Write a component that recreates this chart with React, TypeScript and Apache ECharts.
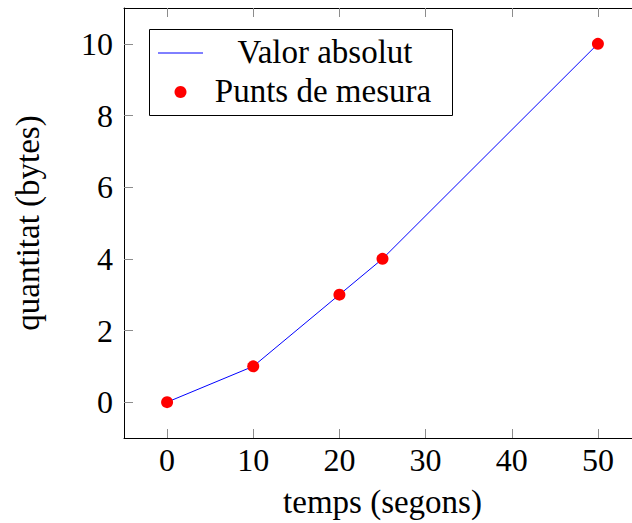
import React, { useEffect, useRef } from "react";
import * as echarts from "echarts";

// measurements: time (s) vs amount (bytes)
const temps = [0, 10, 20, 25, 50];
const quantitat = [0, 1, 3, 4, 10];
const xTicks = [0, 10, 20, 30, 40, 50];
const yTicks = [0, 2, 4, 6, 8, 10];
const legendLabels = ["Valor absolut", "Punts de mesura"];

const FONT = "'Liberation Serif', 'DejaVu Serif', serif";

export default function App() {
  const ref = useRef<HTMLDivElement>(null);

  useEffect(() => {
    if (!ref.current) return;
    const chart = echarts.init(ref.current, null, { renderer: "svg" });
    const points = temps.map((t, i) => [t, quantitat[i]]);
    const tickStyle = { show: true, inside: true, length: 9, lineStyle: { color: "#8c8c8c", width: 1 } };
    const lineStyle = { show: true, onZero: false, lineStyle: { color: "#000", width: 1 } };

    chart.setOption({
      animation: false,
      backgroundColor: "#fff",
      grid: { left: 124, top: 8, width: 517, height: 430, containLabel: false, outerBoundsMode: "none" },
      xAxis: [
        {
          type: "value",
          min: -5,
          max: 55,
          position: "bottom",
          axisLine: lineStyle,
          axisTick: { ...tickStyle, customValues: xTicks },
          splitLine: { show: false },
          axisLabel: { color: "#000", fontFamily: FONT, fontSize: 32, margin: 6, customValues: xTicks },
          name: "temps (segons)",
          nameLocation: "middle",
          nameGap: 47,
          nameTextStyle: { color: "#000", fontFamily: FONT, fontSize: 33 },
        },
        {
          type: "value",
          min: -5,
          max: 55,
          position: "top",
          axisLine: lineStyle,
          axisTick: { ...tickStyle, customValues: xTicks },
          axisLabel: { show: false },
          splitLine: { show: false },
        },
      ],
      yAxis: [
        {
          type: "value",
          min: -1,
          max: 11,
          position: "left",
          axisLine: lineStyle,
          axisTick: { ...tickStyle, customValues: yTicks },
          splitLine: { show: false },
          axisLabel: { color: "#000", fontFamily: FONT, fontSize: 32, margin: 11, customValues: yTicks },
          name: "quantitat (bytes)",
          nameLocation: "middle",
          nameGap: 80,
          nameRotate: 90,
          nameTextStyle: { color: "#000", fontFamily: FONT, fontSize: 33 },
        },
        {
          type: "value",
          min: -1,
          max: 11,
          position: "right",
          axisLine: lineStyle,
          axisTick: { ...tickStyle, customValues: yTicks },
          axisLabel: { show: false },
          splitLine: { show: false },
        },
      ],
      series: [
        {
          name: legendLabels[0],
          type: "line",
          data: points,
          showSymbol: false,
          symbol: "none",
          lineStyle: { color: "#0000ff", width: 1 },
          z: 2,
        },
        {
          name: legendLabels[1],
          type: "scatter",
          data: points,
          symbol: "circle",
          symbolSize: 12,
          itemStyle: { color: "#ff0000", opacity: 1 },
          z: 3,
        },
      ],
      graphic: [
        {
          type: "rect",
          shape: { x: 149.5, y: 29.5, width: 303, height: 86 },
          style: { fill: "#fff", stroke: "#000", lineWidth: 1 },
          z: 10,
        },
        {
          type: "line",
          shape: { x1: 158, y1: 53, x2: 203, y2: 53 },
          style: { stroke: "#0000ff", lineWidth: 1 },
          z: 11,
        },
        {
          type: "circle",
          shape: { cx: 180.5, cy: 92, r: 6 },
          style: { fill: "#ff0000" },
          z: 11,
        },
        {
          type: "text",
          x: 325,
          y: 52,
          style: { text: legendLabels[0], fill: "#000", font: `33px ${FONT}`, align: "center", verticalAlign: "middle" },
          z: 11,
        },
        {
          type: "text",
          x: 323,
          y: 91,
          style: { text: legendLabels[1], fill: "#000", font: `33px ${FONT}`, align: "center", verticalAlign: "middle" },
          z: 11,
        },
      ],
    });
    return () => chart.dispose();
  }, []);

  return (
    <div style={{ position: "fixed", left: 0, top: 0, width: 632, height: 523, overflow: "hidden", background: "#fff" }}>
      <div ref={ref} style={{ width: 660, height: 523 }} />
    </div>
  );
}
